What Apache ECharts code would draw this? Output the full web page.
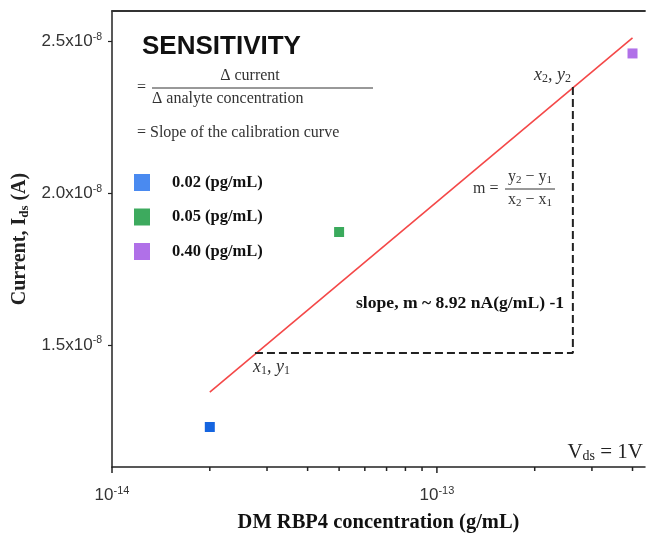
<!DOCTYPE html>
<html>
<head>
<meta charset="utf-8">
<script src="https://cdn.jsdelivr.net/npm/echarts@6/dist/echarts.min.js"></script>
<style>html,body{margin:0;padding:0;background:#fff}#main{width:647px;height:538px}</style>
</head>
<body>
<div id="main"></div>
<script>
// concentrations (g/mL) and measured drain currents (A)
var names = ['0.02 (pg/mL)', '0.05 (pg/mL)', '0.40 (pg/mL)'];
var conc = [2e-14, 5e-14, 4e-13];
var current = [1.229e-8, 1.872e-8, 2.461e-8];
var markColors = ['#1565e0', '#3aaa5c', '#b070e8'];
var legendColors = ['#4a8af0', '#3daa5e', '#b070e8'];

// fitted calibration line
var fitX = [2e-14, 4e-13];
var fitY = [1.344e-8, 2.512e-8];

// slope triangle (x1,y1) -> (x2,y1) -> (x2,y2)
var triX = [2.754e-14, 2.621e-13, 2.621e-13];
var triY = [1.4727e-8, 1.4727e-8, 2.351e-8];

// axis ticks
var yTicks = [1.5e-8, 2.0e-8, 2.5e-8];
var xMajor = [1e-14, 1e-13];
var xMinor = [2e-14, 3e-14, 4e-14, 5e-14, 6e-14, 7e-14, 8e-14, 9e-14, 2e-13, 3e-13, 4e-13];

var xMin = 1e-14, xMax = 4.37e-13;
var yMin = 1.097e-8, yMax = 2.601e-8;

var serif = 'Liberation Serif';
var sans = 'Liberation Sans';

var myChart = echarts.init(document.getElementById('main'));

var series = [];
names.forEach(function (n, i) {
    series.push({
        name: n,
        type: 'scatter',
        symbol: 'rect',
        symbolSize: 10,
        itemStyle: { color: markColors[i], opacity: 1 },
        data: [[conc[i], current[i]]],
        z: 5
    });
});
series.push({
    type: 'line',
    data: fitX.map(function (x, i) { return [x, fitY[i]]; }),
    showSymbol: false,
    silent: true,
    lineStyle: { color: '#f44848', width: 1.6 },
    z: 3
});
series.push({
    type: 'line',
    data: triX.map(function (x, i) { return [x, triY[i]]; }),
    showSymbol: false,
    silent: true,
    lineStyle: { color: '#222', width: 2, type: [8, 4] },
    z: 3
});
// x axis ticks (major and minor) hung under the axis line
series.push({
    type: 'scatter',
    silent: true,
    clip: false,
    symbol: 'rect',
    symbolSize: [1.5, 6],
    symbolOffset: [0, 3],
    itemStyle: { color: '#222', opacity: 1 },
    data: xMajor.map(function (x) { return [x, yMin]; })
});
series.push({
    type: 'scatter',
    silent: true,
    clip: false,
    symbol: 'rect',
    symbolSize: [1.5, 4],
    symbolOffset: [0, 2],
    itemStyle: { color: '#222', opacity: 1 },
    data: xMinor.map(function (x) { return [x, yMin]; })
});

var option = {
    backgroundColor: '#fff',
    animation: false,
    grid: { left: 112, top: 11, right: 2, bottom: 70 },
    legend: {
        orient: 'vertical',
        left: 129,
        top: 169,
        icon: 'rect',
        itemWidth: 16,
        itemHeight: 17,
        itemGap: 17.5,
        selectedMode: false,
        data: names.map(function (n, i) { return { name: n, itemStyle: { color: legendColors[i], opacity: 1 } }; }),
        textStyle: { fontFamily: serif, fontWeight: 'bold', fontSize: 16.5, color: '#111', lineHeight: 17, padding: [0, 0, 0, 17] }
    },
    xAxis: [{
        type: 'log',
        logBase: 10,
        min: xMin,
        max: xMax,
        name: 'DM RBP4 concentration (g/mL)',
        nameLocation: 'middle',
        nameGap: 45,
        nameTextStyle: { fontFamily: serif, fontWeight: 'bold', fontSize: 20.5, color: '#111' },
        axisLine: { lineStyle: { color: '#222', width: 1.5 } },
        axisTick: { show: false },
        splitLine: { show: false },
        axisLabel: {
            margin: 18,
            showMaxLabel: false,
            formatter: function (v) {
                return '{b|10}{s|' + Math.round(Math.log10(v)) + '}';
            },
            rich: {
                b: { fontFamily: sans, fontSize: 17, color: '#333' },
                s: { fontFamily: sans, fontSize: 11, color: '#333', padding: [0, 0, 9, 0] }
            }
        }
    }, {
        type: 'value',
        position: 'top',
        min: 0,
        max: 1,
        axisLine: { show: true, onZero: false, lineStyle: { color: '#333', width: 1.8 } },
        axisTick: { show: false },
        axisLabel: { show: false },
        splitLine: { show: false }
    }],
    yAxis: {
        type: 'value',
        min: yMin,
        max: yMax,
        name: '{n|Current, I}{s|ds}{n| (A)}',
        nameLocation: 'middle',
        nameRotate: 90,
        nameGap: 80,
        nameTextStyle: {
            rich: {
                n: { fontFamily: serif, fontWeight: 'bold', fontSize: 20, color: '#222' },
                s: { fontFamily: serif, fontWeight: 'bold', fontSize: 13, color: '#222', padding: [8, 0, 0, 0] }
            }
        },
        axisLine: { show: true, lineStyle: { color: '#222', width: 1.5 } },
        axisTick: { show: true, length: 4, customValues: yTicks, lineStyle: { color: '#222', width: 1.2 } },
        splitLine: { show: false },
        axisLabel: {
            margin: 10,
            customValues: yTicks,
            formatter: function (v) {
                return '{b|' + (v / 1e-8).toFixed(1) + 'x10}{s|-8}';
            },
            rich: {
                b: { fontFamily: sans, fontSize: 17, color: '#333' },
                s: { fontFamily: sans, fontSize: 10.5, color: '#333', padding: [0, 0, 9, 0] }
            }
        }
    },
    graphic: [
        { type: 'text', left: 142, top: 34, style: { text: 'SENSITIVITY', font: 'bold 26px ' + sans, fill: '#111' } },
        { type: 'text', x: 137, y: 88, style: { text: '=', font: '16px ' + serif, fill: '#333', textVerticalAlign: 'middle' } },
        { type: 'text', x: 250, y: 76, style: { text: 'Δ current', font: '16px ' + serif, fill: '#333', textAlign: 'center', textVerticalAlign: 'middle' } },
        { type: 'line', shape: { x1: 152, y1: 88, x2: 373, y2: 88 }, style: { stroke: '#333', lineWidth: 1 } },
        { type: 'text', x: 152, y: 99, style: { text: 'Δ analyte concentration', font: '16px ' + serif, fill: '#333', textVerticalAlign: 'middle' } },
        { type: 'text', x: 137, y: 133, style: { text: '= Slope of the calibration curve', font: '16px ' + serif, fill: '#333', textVerticalAlign: 'middle' } },

        { type: 'text', x: 473, y: 189, style: { text: 'm =', font: '16px ' + serif, fill: '#333', textVerticalAlign: 'middle' } },
        { type: 'text', x: 530, y: 177, style: {
            text: '{n|y}{s|2}{n| − y}{s|1}', textAlign: 'center', textVerticalAlign: 'middle',
            rich: { n: { font: '16px ' + serif, fill: '#333' }, s: { font: '11px ' + serif, fill: '#333', padding: [6, 0, 0, 0] } }
        } },
        { type: 'line', shape: { x1: 505, y1: 189, x2: 555, y2: 189 }, style: { stroke: '#333', lineWidth: 1 } },
        { type: 'text', x: 530, y: 200, style: {
            text: '{n|x}{s|2}{n| − x}{s|1}', textAlign: 'center', textVerticalAlign: 'middle',
            rich: { n: { font: '16px ' + serif, fill: '#333' }, s: { font: '11px ' + serif, fill: '#333', padding: [6, 0, 0, 0] } }
        } },

        { type: 'text', x: 534, y: 75, style: {
            text: '{n|x}{s|2}{n|, y}{s|2}', textVerticalAlign: 'middle',
            rich: { n: { font: 'italic 18px ' + serif, fill: '#333' }, s: { font: '12px ' + serif, fill: '#333', padding: [7, 0, 0, 0] } }
        } },
        { type: 'text', x: 253, y: 367, style: {
            text: '{n|x}{s|1}{n|, y}{s|1}', textVerticalAlign: 'middle',
            rich: { n: { font: 'italic 18px ' + serif, fill: '#333' }, s: { font: '12px ' + serif, fill: '#333', padding: [7, 0, 0, 0] } }
        } },
        { type: 'text', x: 356, y: 303, style: { text: 'slope, m ~ 8.92 nA(g/mL) -1', font: 'bold 17.6px ' + serif, fill: '#111', textVerticalAlign: 'middle' } },
        { type: 'text', x: 643, y: 452, style: {
            text: '{n|V}{s|ds}{n| = 1V}', textAlign: 'right', textVerticalAlign: 'middle',
            rich: { n: { font: '21px ' + serif, fill: '#222' }, s: { font: '14px ' + serif, fill: '#222', padding: [8, 0, 0, 0] } }
        } }
    ],
    series: series
};

myChart.setOption(option);
</script>
</body>
</html>
